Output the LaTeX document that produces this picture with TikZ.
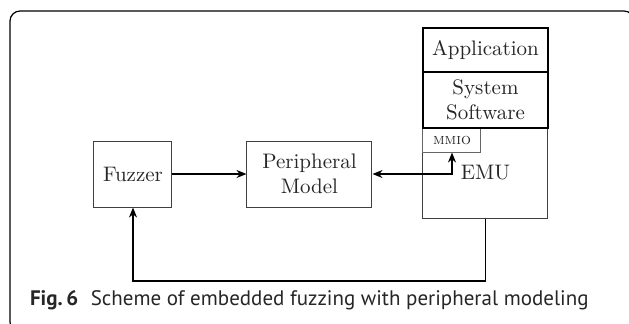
\documentclass[tikz,border=0pt]{standalone}
\usepackage{fontspec}
\newfontfamily\capfont{PT Sans}
\usetikzlibrary{positioning}
\usetikzlibrary{arrows.meta}
\tikzset{
    blockn/.style = {rectangle, draw=black!75, line width=0.5pt, align=center, inner sep=0pt, font=\fontsize{10.5}{12.5}\selectfont, text=black!85},
    blockt/.style = {rectangle, draw=black, line width=1.4pt, align=center, inner sep=0pt, font=\fontsize{10.5}{12.5}\selectfont, text=black!85},
    blocks/.style = {rectangle, draw=black!60, line width=0.5pt, align=center, inner sep=0pt, font=\fontsize{7.8}{9}\selectfont\scshape, text=black!85},
    edgea/.style = {-{Stealth[length=5pt,width=4pt]}, line width=0.9pt, black},
    edgeb/.style = {{Stealth[length=5pt,width=4pt]}-{Stealth[length=5pt,width=4pt]}, line width=0.9pt, black},
    frame/.style = {line width=0.6pt, black, rounded corners=5pt}
}

\begin{document}
\begin{tikzpicture}[x=0.5pt, y=-0.5pt]
\useasboundingbox (0,0) rectangle (629,323);
\begin{scope}
\clip (0,0) rectangle (629,323);
\draw[frame] (10,11) rectangle (634,332);
\end{scope}
%
\node[blockn, minimum width=39pt, minimum height=33pt] at (133,174) (fuzzer) {Fuzzer};
\node[blockn, minimum width=62.5pt, minimum height=33pt] at (309.5,174) (pm) {Peripheral\\Model};
\node[blockn, minimum width=62.5pt, minimum height=45pt] at (485.5,173) (emu) {EMU};
\node[blocks, minimum width=29pt, minimum height=12pt] at (452,140) (mmio) {mmio};
\node[blockt, minimum width=62.5pt, minimum height=22pt] at (485.5,50) (app) {Application};
\node[blockt, minimum width=62.5pt, minimum height=28pt] at (485.5,100) (sys) {System\\Software};
\coordinate (loop) at (485.5,281);
%
\draw[edgea] (fuzzer) -- (pm);
\draw[edgeb] (pm.east) -| (mmio.south);
\draw[edgea] (emu.south) -- (loop) -| (fuzzer.south);

\node[anchor=west, font=\capfont\fontsize{10.5}{12}\selectfont, text=black!85] at (23,300) (cap) {{\bfseries Fig.\,6}\hspace{0.6em}Scheme of embedded fuzzing with peripheral modeling};
\end{tikzpicture}
\end{document}
